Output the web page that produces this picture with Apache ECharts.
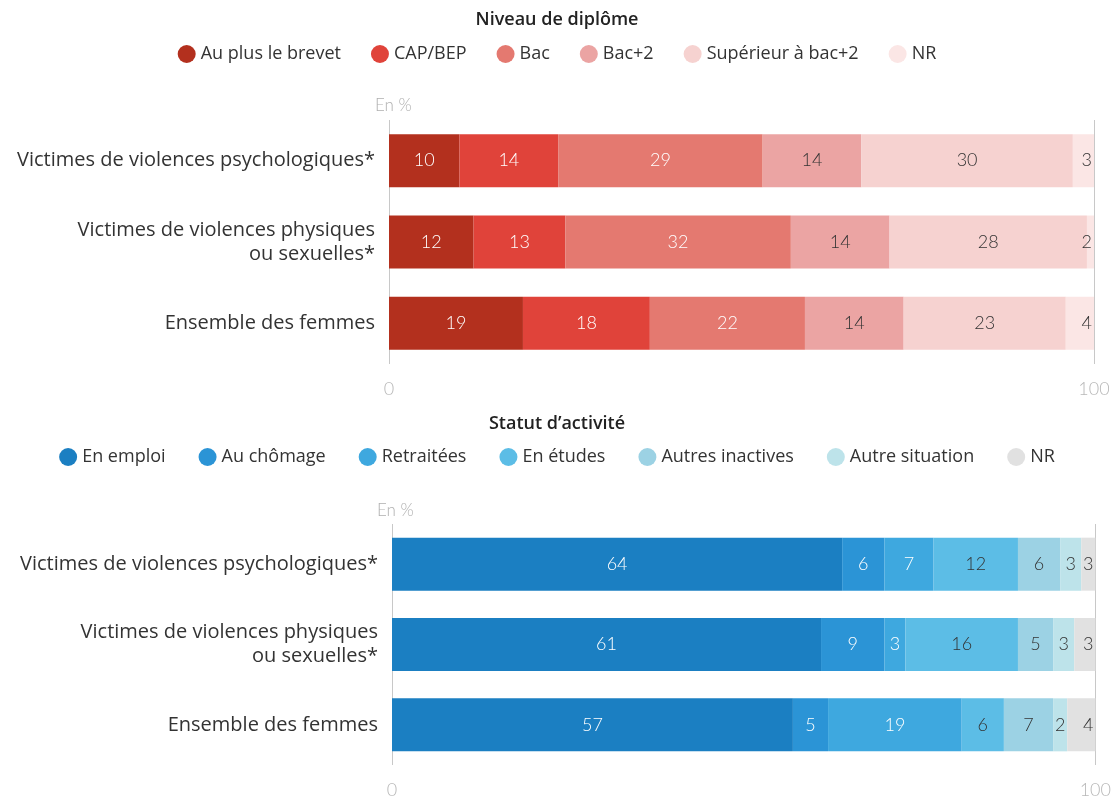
<!DOCTYPE html>
<html><head><meta charset="utf-8">
<script src="https://cdn.jsdelivr.net/npm/echarts@6/dist/echarts.min.js"></script>
<style>html,body{margin:0;padding:0;background:#fff}#c{width:1114px;height:799px}</style>
</head><body><div id="c"></div>
<script>
const categories = ["Victimes de violences psychologiques*", "Victimes de violences physiques\nou sexuelles*", "Ensemble des femmes"];

const diplomeNames = ["Au plus le brevet", "CAP/BEP", "Bac", "Bac+2", "Supérieur à bac+2", "NR"];
const brevet = [10, 12, 19];
const capBep = [14, 13, 18];
const bac = [29, 32, 22];
const bac2 = [14, 14, 14];
const superieur = [30, 28, 23];
const nrDiplome = [3, 2, 4];

const activiteNames = ["En emploi", "Au chômage", "Retraitées", "En études", "Autres inactives", "Autre situation", "NR"];
const emploi = [64, 61, 57];
const chomage = [6, 9, 5];
const retraitees = [7, 3, 19];
const etudes = [12, 16, 6];
const autresInactives = [6, 5, 7];
const autreSituation = [3, 3, 2];
const nrActivite = [3, 3, 4];

const axisTicks = [0, 100];

const diplomeData = [brevet, capBep, bac, bac2, superieur, nrDiplome];
const diplomeColors = ["#b3301e", "#e0433a", "#e47970", "#eba4a3", "#f6d2d0", "#fbe6e5"];
const activiteData = [emploi, chomage, retraitees, etudes, autresInactives, autreSituation, nrActivite];
const activiteColors = ["#1b7fc2", "#2b94d6", "#3ea8df", "#5cbde6", "#9cd2e4", "#bde3ea", "#e1e1e1"];

const FONT = "Open Sans";
const NUMFONT = "Lato";
const chart = echarts.init(document.getElementById('c'), null, {renderer: 'canvas'});

function mkSeries(names, data, colors, idx, prefix, whiteCount) {
  return names.map((n, i) => ({
    name: prefix + n,
    type: 'bar',
    stack: 's' + idx,
    xAxisIndex: idx,
    yAxisIndex: idx,
    barWidth: 53,
    data: data[i],
    itemStyle: {color: colors[i]},
    label: {
      show: true,
      position: i === names.length - 1 ? 'insideRight' : 'inside',
      distance: 2,
      color: i < whiteCount ? '#fff' : '#333',
      fontFamily: NUMFONT,
      fontSize: 18,
      fontWeight: 300
    },
    emphasis: {disabled: true}
  }));
}

function xAx(idx) {
  return {
    gridIndex: idx, type: 'value', min: axisTicks[0], max: axisTicks[1], interval: 100,
    axisLine: {show: false}, axisTick: {show: false},
    splitLine: {show: true, lineStyle: {color: '#c8c8c8', width: 1}},
    axisLabel: {color: '#b8b8b8', fontFamily: NUMFONT, fontSize: 18, margin: 16, fontWeight: 300}
  };
}
function yAx(idx) {
  return {
    gridIndex: idx, type: 'category', inverse: true, data: categories,
    axisLine: {show: false}, axisTick: {show: false},
    axisLabel: {color: '#333', fontFamily: FONT, fontSize: 20, margin: 14, align: 'right', lineHeight: 24}
  };
}

const legendText = {color: '#333', fontFamily: FONT, fontSize: 18};

chart.setOption({
  animation: false,
  textStyle: {fontFamily: FONT},
  title: [
    {text: 'Niveau de diplôme', left: 'center', top: 6, textStyle: {fontFamily: FONT, fontSize: 18, fontWeight: 600, color: '#222'}},
    {text: "Statut d’activité", left: 'center', top: 410, textStyle: {fontFamily: FONT, fontSize: 18, fontWeight: 600, color: '#222'}},
    {text: 'En %', left: 370, top: 92, textStyle: {fontFamily: NUMFONT, fontSize: 17, fontWeight: 300, color: '#b0b0b0'}},
    {text: 'En %', left: 372, top: 497, textStyle: {fontFamily: NUMFONT, fontSize: 17, fontWeight: 300, color: '#b0b0b0'}}
  ],
  legend: [
    {data: diplomeNames.map(n => 'd_' + n), formatter: n => n.slice(2), top: 40, left: 'center', icon: 'circle',
     itemWidth: 18, itemHeight: 18, itemGap: 30, textStyle: legendText, selectedMode: false},
    {data: activiteNames.map(n => 'a_' + n), formatter: n => n.slice(2), top: 443, left: 'center', icon: 'circle',
     itemWidth: 18, itemHeight: 18, itemGap: 33, textStyle: legendText, selectedMode: false}
  ],
  grid: [
    {left: 389, right: 20, top: 120, height: 244},
    {left: 392, right: 17, top: 524, height: 246}
  ],
  xAxis: [xAx(0), xAx(1)],
  yAxis: [yAx(0), yAx(1)],
  series: [].concat(
    mkSeries(diplomeNames, diplomeData, diplomeColors, 0, 'd_', 3),
    mkSeries(activiteNames, activiteData, activiteColors, 1, 'a_', 3)
  )
});
</script></body></html>
